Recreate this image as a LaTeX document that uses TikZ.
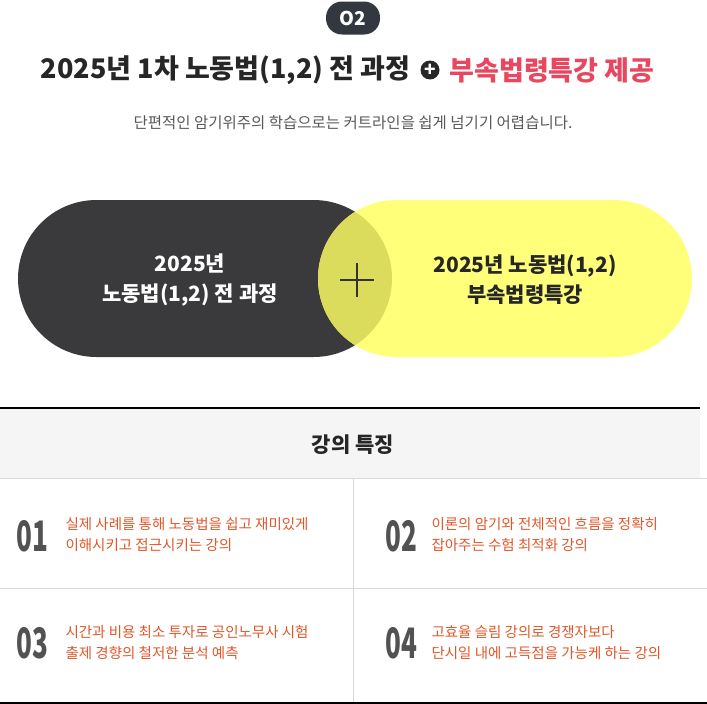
\documentclass[tikz,border=0pt]{standalone}
\usepackage{fontspec}
\usepackage{graphicx}
\setmainfont{Noto Sans CJK KR}
\begin{document}
\begin{tikzpicture}[x=1pt,y=-1pt,
  ftxt/.style={anchor=west,align=left,font=\fontsize{14.5}{21}\selectfont},
  fnum/.style={anchor=west,text=black!68,inner sep=0pt,font=\fontsize{42}{42}\selectfont\bfseries}]
\definecolor{badge}{HTML}{333740}
\definecolor{pdark}{HTML}{3A3A3C}
\definecolor{pyel}{HTML}{FFFF7A}
\definecolor{pmix}{HTML}{DBDB5C}
\definecolor{tred}{HTML}{E8475F}
\definecolor{ftc}{HTML}{E0582A}
\useasboundingbox (0,0) rectangle (707,704);
\fill[white] (0,0) rectangle (707,704);
% badge
\node[fill=badge,rounded corners=16pt,minimum width=54pt,minimum height=33pt,text=white,font=\fontsize{19}{19}\selectfont\bfseries] (badge) at (353,18) {O2};
% title
\node[font=\fontsize{27}{27}\selectfont\bfseries,text=black!85,anchor=east] (t1) at (414,70) {2025년 1차 노동법(1,2) 전 과정};
\node[circle,fill=black!85,minimum size=19pt,inner sep=0pt,text=white,font=\fontsize{19}{19}\selectfont\bfseries] (plus) at (430,70) {+};
\node[font=\fontsize{27}{27}\selectfont\bfseries,text=tred,anchor=west] (t2) at (446,70) {부속법령특강 제공};
\node[font=\fontsize{15.5}{15.5}\selectfont,text=black!65] (sub) at (353,123) {단편적인 암기위주의 학습으로는 커트라인을 쉽게 넘기기 어렵습니다.};
% pills
\fill[pdark,rounded corners=78.5pt] (18,200) rectangle (392,357);
\fill[pyel,rounded corners=78.5pt] (318,200) rectangle (692,357);
\begin{scope}
\clip[rounded corners=78.5pt] (18,200) rectangle (392,357);
\fill[pmix,rounded corners=78.5pt] (318,200) rectangle (692,357);
\end{scope}
\draw[black!80,line width=1.3pt] (340,280) -- (374,280) (357,263) -- (357,297);
\node[align=center,text=white,font=\fontsize{21}{30}\selectfont\bfseries] (lt) at (190,280) {2025년\\노동법(1,2) 전 과정};
\node[align=center,text=black!85,font=\fontsize{21}{30}\selectfont\bfseries] (rt) at (525,280) {2025년 노동법(1,2)\\부속법령특강};
% features
\fill[black!4] (0,409) rectangle (700,478);
\draw[black,line width=2pt] (0,408) -- (700,408);
\draw[black!15] (0,478) -- (707,478) (0,588) -- (707,588) (353,478) -- (353,703);
\draw[black,line width=2pt] (0,703) -- (707,703);
\node[font=\fontsize{21}{21}\selectfont\bfseries,text=black!85] (hd) at (353,445) {강의 특징};
\node[fnum] (n1) at (16,536) {\scalebox{0.62}[1]{01}};
\node[ftxt,text=ftc] (f1) at (62,535) {실제 사례를 통해 노동법을 쉽고 재미있게\\이해시키고 접근시키는 강의};
\node[fnum] (n2) at (385,536) {\scalebox{0.62}[1]{02}};
\node[ftxt,text=ftc] (f2) at (428,535) {이론의 암기와 전체적인 흐름을 정확히\\잡아주는 수험 최적화 강의};
\node[fnum] (n3) at (16,643) {\scalebox{0.62}[1]{03}};
\node[ftxt,text=ftc] (f3) at (62,643) {시간과 비용 최소 투자로 공인노무사 시험\\출제 경향의 철저한 분석 예측};
\node[fnum] (n4) at (385,643) {\scalebox{0.62}[1]{04}};
\node[ftxt,text=ftc] (f4) at (428,643) {고효율 슬림 강의로 경쟁자보다\\단시일 내에 고득점을 가능케 하는 강의};
\end{tikzpicture}
\end{document}
